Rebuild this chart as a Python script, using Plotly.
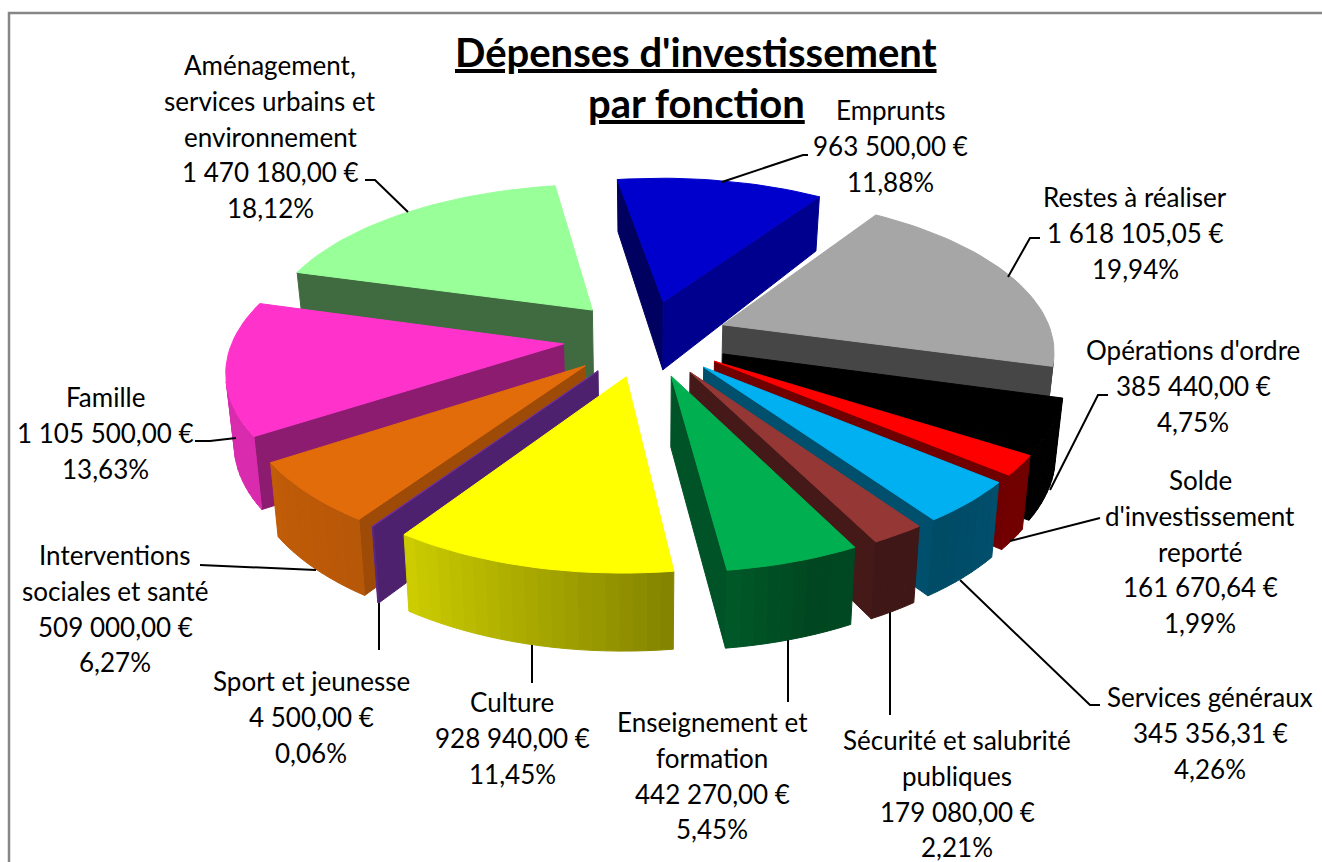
import numpy as np
import plotly.graph_objects as go

# ---- data ---------------------------------------------------------------
categories = [
    "Emprunts", "Restes à réaliser", "Opérations d'ordre",
    "Solde d'investissement reporté", "Services généraux",
    "Sécurité et salubrité publiques", "Enseignement et formation",
    "Culture", "Sport et jeunesse", "Interventions sociales et santé",
    "Famille", "Aménagement, services urbains et environnement",
]
values = [963500.00, 1618105.05, 385440.00, 161670.64, 345356.31, 179080.00,
          442270.00, 928940.00, 4500.00, 509000.00, 1105500.00, 1470180.00]
percent_labels = ["11,88%", "19,94%", "4,75%", "1,99%", "4,26%", "2,21%",
                  "5,45%", "11,45%", "0,06%", "6,27%", "13,63%", "18,12%"]

# ---- styles -------------------------------------------------------------
colors = ["#0000cc", "#a6a6a6", "#000000", "#ff0000", "#00b0f0", "#953735",
          "#00b050", "#ffff00", "#7030a0", "#e36c0a", "#ff33cc", "#99ff99"]
label_lines = [
    ["Emprunts"], ["Restes à réaliser"], ["Opérations d'ordre"],
    ["Solde", "d'investissement", "reporté"], ["Services généraux"],
    ["Sécurité et salubrité", "publiques"], ["Enseignement et", "formation"],
    ["Culture"], ["Sport et jeunesse"], ["Interventions", "sociales et santé"],
    ["Famille"], ["Aménagement,", "services urbains et", "environnement"],
]
label_cx = [890, 1135, 1193, 1200, 1210, 957, 712, 512, 311, 115, 105, 270]
label_y0 = [110, 197, 350, 480, 697, 740, 722, 702, 681, 555, 397, 65]
LINE_STEP = 35.8
leaders = [
    [(722, 182), (803, 155), (808, 155)],
    [(1008, 277), (1030, 238), (1040, 238)],
    [(1050, 490), (1098, 395), (1108, 395)],
    [(1010, 541), (1100, 518)],
    [(960, 580), (1090, 705), (1100, 705)],
    [(890, 612), (890, 715)],
    [(788, 640), (788, 702)],
    [(532, 645), (532, 683)],
    [(379, 603), (379, 650)],
    [(316, 570), (200, 565)],
    [(236, 438), (210, 441), (195, 441)],
    [(408, 212), (375, 180), (365, 180)],
]

# ---- pie geometry (projective view of a tilted exploded pie) ------------
CX, CY = 646.0, 338.0
R = 330.0
TILT = 0.463
PERSP_X = 0.00045
PERSP_Y = 0.000465
EXPLODE = 83.0
START = 351.0
BOTTOM_SHRINK = 0.98
WALL_Y = [180, 302, 437, 572]
WALL_H = [52, 68, 73, 78]


def proj(x, y):
    return (CX + x / (1.0 - y * PERSP_X),
            CY + y * TILT / (1.0 - y * PERSP_Y))


def lower(pt):
    return (CX + (pt[0] - CX) * BOTTOM_SHRINK,
            pt[1] + float(np.interp(pt[1], WALL_Y, WALL_H)))


def curved_shade(a):
    return float(np.interp(a, [100, 130, 160, 175, 213, 235, 285],
                           [.42, .45, .40, .53, .80, .85, .85]))


def flat_shade(a):
    return float(np.interp(a % 360, [60, 123, 146, 195, 260, 300],
                           [.80, .70, .55, .42, .47, .5]))


def dim(hex_col, f):
    c = [int(hex_col[i:i + 2], 16) for i in (1, 3, 5)]
    return "rgb(%d,%d,%d)" % tuple(round(v * f) for v in c)


def area(px, py):
    return 0.5 * sum(px[i] * py[(i + 1) % len(px)] - px[(i + 1) % len(px)] * py[i]
                     for i in range(len(px)))


fig = go.Figure()


def poly(px, py, col):
    fig.add_trace(go.Scatter(
        x=list(px) + [px[0]], y=list(py) + [py[0]], mode="lines", fill="toself",
        fillcolor=col, line=dict(color=col, width=1),
        hoverinfo="skip", showlegend=False))


total = sum(values)
spans = [v / total * 360 for v in values]
starts = START + np.concatenate([[0], np.cumsum(spans)[:-1]])
mids = starts + np.array(spans) / 2
order = np.argsort(-np.cos(np.radians(mids)))

for i in order:
    a0, a1 = starts[i], starts[i] + spans[i]
    amid = np.radians(mids[i])
    ox, oy = EXPLODE * np.sin(amid), -EXPLODE * np.cos(amid)
    n = max(2, int(np.ceil(spans[i] / 2.0)))
    angs = np.linspace(a0, a1, n + 1)
    rim = [(ox + R * np.sin(np.radians(a)), oy - R * np.cos(np.radians(a))) for a in angs]
    col = colors[i]

    def wall(p, q, shade):
        # p to q follows the outline clockwise seen from above; culled when facing away
        tp, tq = proj(*p), proj(*q)
        xs, ys = zip(tp, tq, lower(tq), lower(tp))
        if area(xs, ys) < 0:
            poly(xs, ys, dim(col, shade))

    wall((ox, oy), rim[0], flat_shade(a0 - 90))
    wall(rim[-1], (ox, oy), flat_shade(a1 + 90))
    for j in range(n):
        wall(rim[j], rim[j + 1], curved_shade(((angs[j] + angs[j + 1]) / 2) % 360))
    pts = [proj(ox, oy)] + [proj(*p) for p in rim]
    xs, ys = zip(*pts)
    poly(xs, ys, col)

# ---- layout -------------------------------------------------------------
shapes = [
    dict(type="path", xref="x", yref="y",
         path="M " + " L ".join(f"{x} {y}" for x, y in pts),
         line=dict(color="#000000", width=2))
    for pts in leaders
]
shapes.append(dict(type="path", xref="x", yref="y",
                   path="M 9 862 L 9 13 L 1322 13",
                   line=dict(color="#868686", width=2.5)))


def money(v):
    s = f"{v:,.2f}".replace(",", " ").replace(".", ",")
    return s + " €"


annotations = []
FONT = "Lato"
for i in range(len(values)):
    lines = label_lines[i] + [money(values[i]), percent_labels[i]]
    for k, t in enumerate(lines):
        annotations.append(dict(
            x=label_cx[i], y=label_y0[i] + k * LINE_STEP, xref="x", yref="y",
            text=t, showarrow=False, xanchor="center", yanchor="middle",
            font=dict(family=FONT, size=26, color="#000000")))
for t, x, y in [("Dépenses d'investissement", 696, 52), ("par fonction", 696, 103)]:
    annotations.append(dict(
        x=x, y=y, xref="x", yref="y", text=f"<b>{t}</b>", showarrow=False,
        xanchor="center", yanchor="middle",
        font=dict(family=FONT, size=40, color="#000000", lineposition="under")))

fig.update_layout(
    width=1322, height=862, margin=dict(l=0, r=0, t=0, b=0),
    paper_bgcolor="#ffffff", plot_bgcolor="#ffffff",
    xaxis=dict(range=[0, 1322], visible=False, fixedrange=True),
    yaxis=dict(range=[862, 0], visible=False, fixedrange=True),
    shapes=shapes, annotations=annotations, showlegend=False,
)
fig.write_html("out.html", config=dict(displayModeBar=False),
               post_script="document.body.style.margin='0';document.body.style.overflow='hidden';")
